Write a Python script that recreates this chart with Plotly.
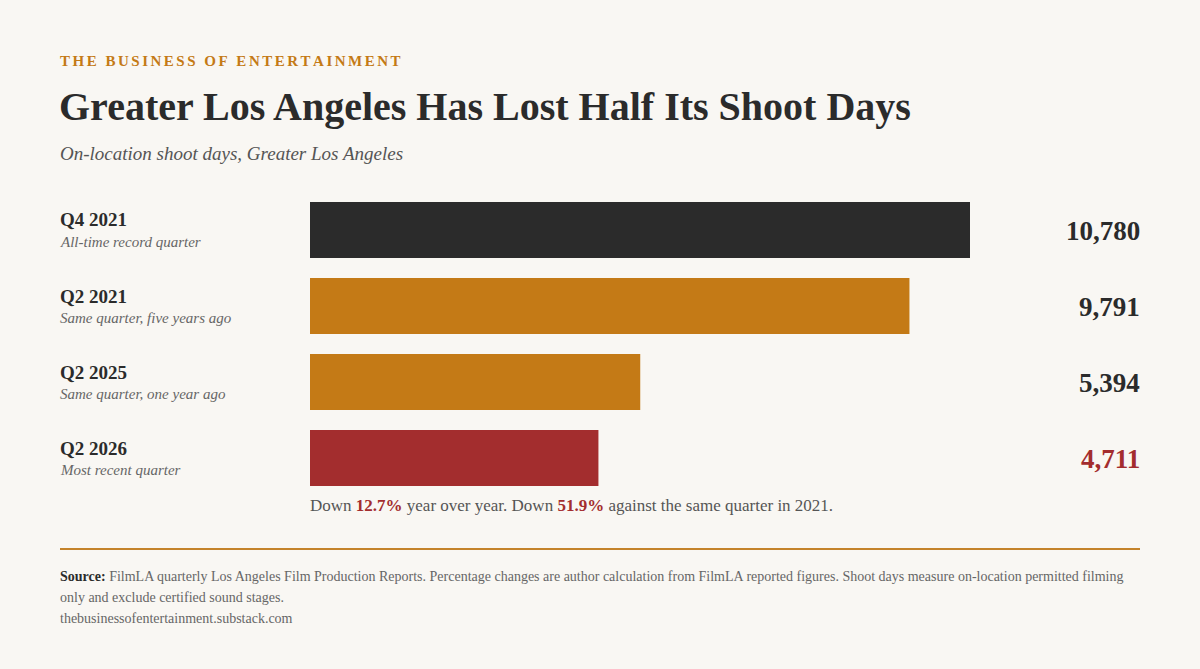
import plotly.graph_objects as go

# chart data
quarters = ["Q4 2021", "Q2 2021", "Q2 2025", "Q2 2026"]
notes = [
    "All-time record quarter",
    "Same quarter, five years ago",
    "Same quarter, one year ago",
    "Most recent quarter",
]
shoot_days = [10780, 9791, 5394, 4711]
bar_colors = ["#2b2b2b", "#c47a16", "#c47a16", "#a32d2e"]
value_colors = ["#2b2b2b", "#2b2b2b", "#2b2b2b", "#a32d2e"]

source_lines = [
    "<b><span style='color:#2b2b2b'>Source:</span></b> FilmLA quarterly Los Angeles Film "
    "Production Reports. Percentage changes are author calculation from FilmLA reported "
    "figures. Shoot days measure on-location permitted filming",
    "only and exclude certified sound stages.",
    "thebusinessofentertainment.substack.com",
]

W, H = 1200, 669
BG = "#f9f7f3"
SERIF = "Liberation Serif, Times New Roman, serif"
LEFT = 58 / W  # annotation text sits ~2px inside its box


def py(px):
    # pixel row from top -> paper coordinate
    return 1 - px / H


fig = go.Figure()

fig.add_trace(
    go.Bar(
        x=shoot_days,
        y=quarters,
        orientation="h",
        marker=dict(color=bar_colors, line=dict(width=0)),
        width=56 / 76,
        hoverinfo="skip",
    )
)

annotations = []

# header block (hair spaces stand in for letter-spacing)
annotations.append(
    dict(
        text="\u200a\u200a".join("THE BUSINESS OF ENTERTAINMENT"),
        x=LEFT, y=py(61), xref="paper", yref="paper",
        xanchor="left", yanchor="middle", showarrow=False,
        font=dict(family=SERIF, size=15, color="#c47a16", weight="bold"),
    )
)
annotations.append(
    dict(
        text="<b>Greater Los Angeles Has Lost Half Its Shoot Days</b>",
        x=57 / W, y=py(107), xref="paper", yref="paper",
        xanchor="left", yanchor="middle", showarrow=False,
        font=dict(family=SERIF, size=40, color="#2b2b2b"),
    )
)
annotations.append(
    dict(
        text="<i>On-location shoot days, Greater Los Angeles</i>",
        x=LEFT, y=py(153), xref="paper", yref="paper",
        xanchor="left", yanchor="middle", showarrow=False,
        font=dict(family=SERIF, size=19, color="#555555"),
    )
)

# row labels and values
for q, note, v, vc in zip(quarters, notes, shoot_days, value_colors):
    annotations.append(
        dict(
            text=f"<b>{q}</b>", x=LEFT, y=q, xref="paper", yref="y",
            xanchor="left", yanchor="middle", yshift=10, showarrow=False,
            font=dict(family=SERIF, size=19, color="#2b2b2b"),
        )
    )
    annotations.append(
        dict(
            text=f"<i>{note}</i>", x=LEFT, y=q, xref="paper", yref="y",
            xanchor="left", yanchor="middle", yshift=-12, showarrow=False,
            font=dict(family=SERIF, size=15, color="#666666"),
        )
    )
    annotations.append(
        dict(
            text=f"<b>{v:,}</b>", x=1142 / W, y=q, xref="paper", yref="y",
            xanchor="right", yanchor="middle", yshift=-1, showarrow=False,
            font=dict(family=SERIF, size=27, color=vc),
        )
    )

red = "#a32d2e"
annotations.append(
    dict(
        text=(
            f"Down <b><span style='color:{red}'>12.7%</span></b> year over year. "
            f"Down <b><span style='color:{red}'>51.9%</span></b> against the same quarter in 2021."
        ),
        x=308 / W, y=py(505), xref="paper", yref="paper",
        xanchor="left", yanchor="middle", showarrow=False,
        font=dict(family=SERIF, size=17, color="#555555"),
    )
)

# footer, one annotation per line for the looser line height
for i, line in enumerate(source_lines):
    annotations.append(
        dict(
            text=line,
            x=LEFT, y=py(576 + 21 * i), xref="paper", yref="paper",
            xanchor="left", yanchor="middle", align="left", showarrow=False,
            font=dict(family=SERIF, size=14, color="#666666"),
        )
    )

fig.update_layout(
    width=W,
    height=H,
    paper_bgcolor=BG,
    plot_bgcolor=BG,
    margin=dict(l=0, r=0, t=0, b=0),
    showlegend=False,
    xaxis=dict(
        domain=[310 / W, 970 / W],
        range=[0, max(shoot_days)],
        visible=False,
        fixedrange=True,
    ),
    yaxis=dict(
        domain=[py(496), py(192)],
        range=[3.5, -0.5],
        visible=False,
        fixedrange=True,
    ),
    annotations=annotations,
    shapes=[
        dict(
            type="line", xref="paper", yref="paper",
            x0=60 / W, x1=1140 / W, y0=py(549), y1=py(549),
            line=dict(color="#c4832a", width=2),
        )
    ],
)

fig.write_html(
    "out.html",
    config={"displayModeBar": False},
    post_script="document.body.style.margin='0';",
)
